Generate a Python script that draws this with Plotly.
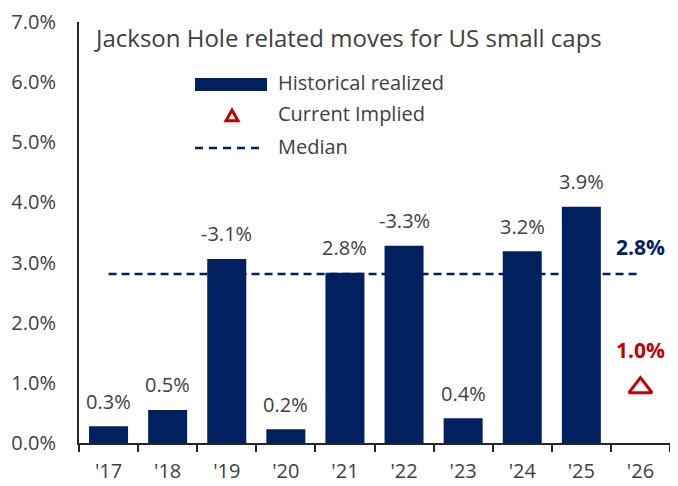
import plotly.graph_objects as go

# ---- data ----
years = ["'17", "'18", "'19", "'20", "'21", "'22", "'23", "'24", "'25", "'26"]
realized = [0.28, 0.55, 3.06, 0.23, 2.83, 3.28, 0.41, 3.19, 3.93, None]
realized_labels = ["0.3%", "0.5%", "-3.1%", "0.2%", "2.8%", "-3.3%", "0.4%", "3.2%", "3.9%", ""]
implied_year = "'26"
implied = 0.92
implied_label = "1.0%"
median = 2.81
median_label = "2.8%"
y_ticks = [0, 1, 2, 3, 4, 5, 6, 7]

NAVY = "#002060"
RED = "#C00000"
TEXT = "#404040"
FONT = "Open Sans"

# page body has an 8px margin, so the figure is shrunk by that much
OFF = 8
W, H = 678 - OFF, 486 - OFF
L, R, T, B = 79 - OFF, 8, 22 - OFF, 43
PW, PH = W - L - R, H - T - B


def px_x(p):
    # window pixel -> paper x
    return (p - OFF - L) / PW


def px_y(p):
    # window pixel -> paper y
    return (H - B - (p - OFF)) / PH


fig = go.Figure()

fig.add_trace(go.Bar(
    x=years, y=realized, marker_color=NAVY, marker_line_width=0,
    showlegend=False, hoverinfo="skip",
))

fig.add_trace(go.Scatter(
    x=[implied_year], y=[implied], mode="markers",
    marker=dict(symbol="triangle-up-open", size=20, color=RED, line=dict(width=3, color=RED)),
    showlegend=False, hoverinfo="skip",
))

# median line sits behind the bars
fig.add_shape(type="line", x0=years[0], x1=years[-1], y0=median, y1=median,
              xref="x", yref="y", layer="below",
              line=dict(color=NAVY, width=2.5, dash="8px,5px"))

# bar labels
for yr, v, lab in zip(years, realized, realized_labels):
    if v is None:
        continue
    fig.add_annotation(x=yr, y=v, text=lab, showarrow=False, yshift=25,
                       font=dict(family=FONT, size=20, color=TEXT))

fig.add_annotation(x=implied_year, y=implied, text=f"<b>{implied_label}</b>", showarrow=False,
                   yshift=38, font=dict(family=FONT, size=21, color=RED))
fig.add_annotation(x=years[-1], y=median, text=f"<b>{median_label}</b>", showarrow=False,
                   yshift=27, font=dict(family=FONT, size=21, color=NAVY))

# title
fig.add_annotation(xref="paper", yref="paper", x=px_x(92), y=px_y(37), xanchor="left",
                   yanchor="middle", showarrow=False,
                   text="Jackson Hole related moves for US small caps",
                   font=dict(family=FONT, size=24, color=TEXT))

# hand-drawn legend
fig.add_shape(type="rect", xref="paper", yref="paper",
              x0=px_x(195), x1=px_x(267), y0=px_y(91), y1=px_y(78),
              fillcolor=NAVY, line_width=0)
cx, cy, s = 232, 116, 6
fig.add_shape(type="path", xref="paper", yref="paper",
              path=(f"M {px_x(cx - s)} {px_y(cy + s * 0.8)} L {px_x(cx + s)} {px_y(cy + s * 0.8)} "
                    f"L {px_x(cx)} {px_y(cy - s)} Z"),
              fillcolor="white", line=dict(color=RED, width=3))
fig.add_shape(type="line", xref="paper", yref="paper",
              x0=px_x(195), x1=px_x(265), y0=px_y(148), y1=px_y(148),
              line=dict(color=NAVY, width=2.5, dash="8px,6px"))
for text, py in [("Historical realized", 82), ("Current Implied", 114), ("Median", 146)]:
    fig.add_annotation(xref="paper", yref="paper", x=px_x(276), y=px_y(py), xanchor="left",
                       yanchor="middle", showarrow=False, text=text,
                       font=dict(family=FONT, size=20, color=TEXT))

fig.update_layout(
    width=W, height=H,
    margin=dict(l=L, r=R, t=T, b=B, pad=0, autoexpand=False),
    paper_bgcolor="white", plot_bgcolor="white",
    font=dict(family=FONT, size=20, color=TEXT),
    bargap=0.34,
    showlegend=False,
    xaxis=dict(
        type="category", range=[-0.5, len(years) - 0.5], automargin=False,
        showline=True, linecolor="#262626", linewidth=2,
        ticks="outside", tickson="boundaries", ticklen=7, tickwidth=2, tickcolor="#262626",
        ticklabelstandoff=9,
        showgrid=False, zeroline=False, fixedrange=True,
        tickfont=dict(family=FONT, size=20, color=TEXT),
    ),
    yaxis=dict(
        range=[0, 7], tickvals=y_ticks, ticktext=[f"{v:.1f}%" for v in y_ticks],
        automargin=False,
        showline=True, linecolor="#262626", linewidth=2,
        ticks="", showgrid=False, zeroline=False, fixedrange=True,
        ticklabelstandoff=17,
        tickfont=dict(family=FONT, size=20, color=TEXT),
    ),
)

fig.write_html("out.html", config={"displayModeBar": False})
